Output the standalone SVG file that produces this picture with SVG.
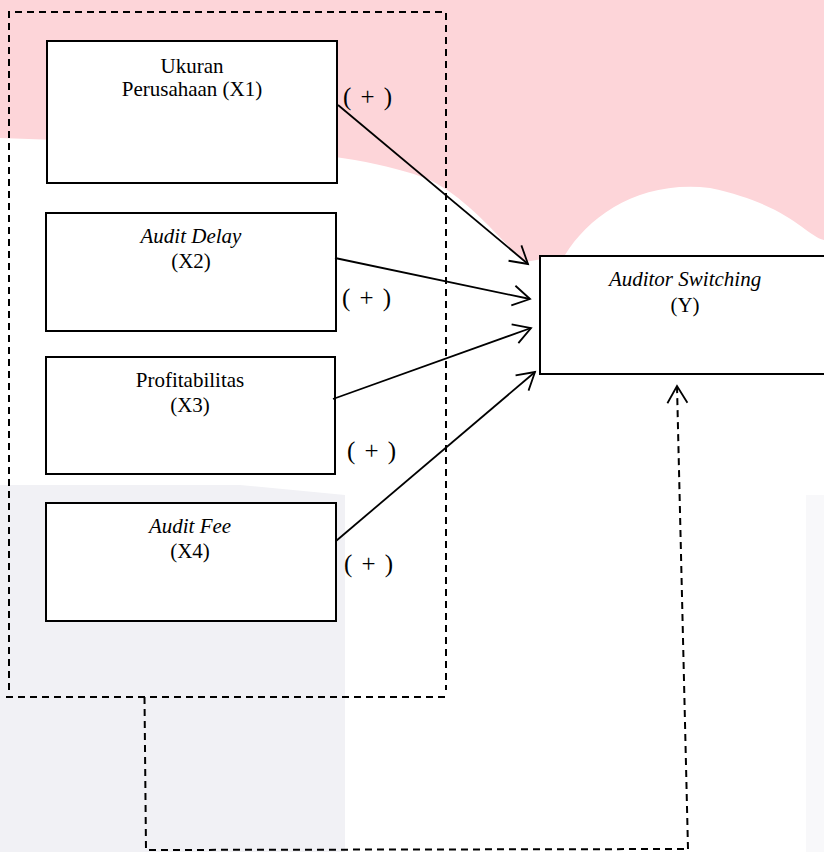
<svg xmlns="http://www.w3.org/2000/svg" width="824" height="852" viewBox="0 0 824 852">
  <style>
    .box { fill: #ffffff; stroke: #000000; stroke-width: 2; }
    .lbl { font-family: "Liberation Serif", "Times New Roman", serif; font-size: 21px; fill: #000000; text-anchor: middle; }
    .it { font-style: italic; }
    .sign { font-family: "Liberation Serif", "Times New Roman", serif; font-size: 25px; fill: #000000; }
    .arrow { fill: none; stroke: #000000; stroke-width: 1.8; marker-end: url(#open); }
    .dash { fill: none; stroke: #000000; stroke-width: 2; stroke-dasharray: 7 5; }
  </style>
  <defs>
    <marker id="open" markerUnits="userSpaceOnUse" markerWidth="24" markerHeight="24" refX="20" refY="11" orient="auto">
      <path d="M3,1 L20,11 L3,21" fill="none" stroke="#000000" stroke-width="1.8"/>
    </marker>
  </defs>

  <g id="background">
    <rect x="0" y="0" width="824" height="852" fill="#ffffff"/>
    <path d="M0,0 H824 V240 C805,235 790,205 710,188 C640,180 590,215 565,255 L525,262 C500,240 470,200 430,180 C380,160 300,150 200,145 L0,138 Z" fill="#fdd5d9"/>
    <path d="M0,485 H240 L345,495 V852 H0 Z" fill="#f1f1f5"/>
    <rect x="806" y="495" width="18" height="357" fill="#f8f8fa"/>
  </g>

  <g id="group-border">
    <path class="dash" d="M9,690 V12 H446 V690"/>
    <path class="dash" d="M6,697 H445"/>
  </g>

  <g id="x1">
    <rect class="box" x="47" y="41" width="290" height="142"/>
    <text class="lbl" x="192" y="73">Ukuran</text>
    <text class="lbl" x="192" y="96">Perusahaan (X1)</text>
  </g>
  <g id="x2">
    <rect class="box" x="46" y="213" width="290" height="118"/>
    <text class="lbl it" x="191" y="243">Audit Delay</text>
    <text class="lbl" x="191" y="268">(X2)</text>
  </g>
  <g id="x3">
    <rect class="box" x="46" y="357" width="289" height="117"/>
    <text class="lbl" x="190" y="387">Profitabilitas</text>
    <text class="lbl" x="190" y="412">(X3)</text>
  </g>
  <g id="x4">
    <rect class="box" x="46" y="503" width="290" height="118"/>
    <text class="lbl it" x="190" y="533">Audit Fee</text>
    <text class="lbl" x="190" y="558">(X4)</text>
  </g>
  <g id="y">
    <rect class="box" x="540" y="256" width="300" height="118"/>
    <text class="lbl it" x="685" y="286">Auditor Switching</text>
    <text class="lbl" x="685" y="312">(Y)</text>
  </g>

  <g id="connectors">
    <line class="arrow" x1="338" y1="105" x2="528" y2="264"/>
    <line class="arrow" x1="335" y1="258" x2="530" y2="299"/>
    <line class="arrow" x1="333" y1="399" x2="531" y2="328"/>
    <line class="arrow" x1="336" y1="541" x2="535" y2="372"/>
    <path class="dash" d="M144.5,697 L146,850 L688,849"/>
    <path class="dash" d="M688,849 L677,386" marker-end="url(#open)"/>
  </g>

  <g id="signs">
    <text class="sign" x="343" y="105" textLength="49">( + )</text>
    <text class="sign" x="342" y="306" textLength="49">( + )</text>
    <text class="sign" x="347" y="459" textLength="49">( + )</text>
    <text class="sign" x="344" y="572" textLength="49">( + )</text>
  </g>
</svg>
